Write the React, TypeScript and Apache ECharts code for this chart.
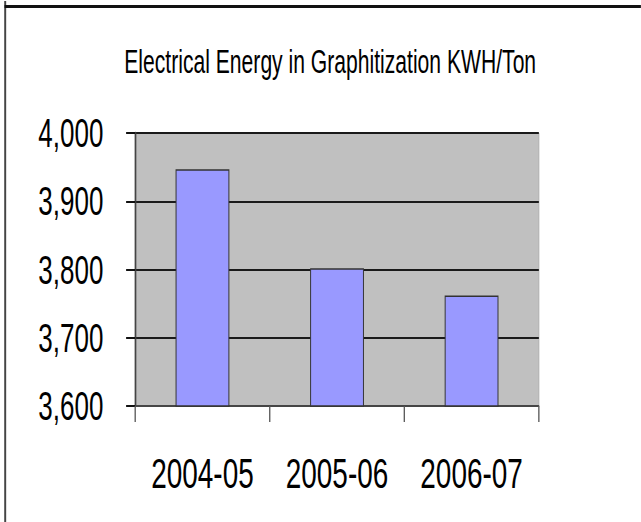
import React, { useEffect, useRef } from "react";
import * as echarts from "echarts";

const categories = ["2004-05", "2005-06", "2006-07"];
const energyKwhPerTon = [3947, 3802, 3762];
const yTicks = { min: 3600, max: 4000, interval: 100 };
const titleText = "Electrical Energy in Graphitization KWH/Ton";

// The reference is horizontally compressed; we draw wider and squeeze with scaleX.
const SX = 0.65;
const PAGE_W = 641;
const PAGE_H = 522;
const W = Math.round(PAGE_W / SX);

export default function App() {
  const ref = useRef<HTMLDivElement>(null);
  useEffect(() => {
    if (!ref.current) return;
    const chart = echarts.init(ref.current, null, { renderer: "svg" });
    const font = "'Liberation Sans', Arial, sans-serif";
    chart.setOption({
      animation: false,
      backgroundColor: "#ffffff",
      textStyle: { fontFamily: font },
      title: {
        text: titleText,
        left: 503,
        top: 40,
        textAlign: "center",
        textStyle: { fontSize: 32.5, fontWeight: "normal", color: "#000", fontFamily: font },
      },
      graphic: [
        { type: "line", shape: { x1: 8, y1: 1, x2: 8, y2: PAGE_H }, style: { stroke: "#444", lineWidth: 3 } },
        { type: "line", shape: { x1: 7, y1: 6.5, x2: W, y2: 6.5 }, style: { stroke: "#111", lineWidth: 3 } },
      ],
      grid: {
        left: 208,
        right: W - 829,
        top: 133,
        bottom: PAGE_H - 406,
        show: true,
        backgroundColor: "#C0C0C0",
        borderColor: "#a8a8a8",
        borderWidth: 1,
        containLabel: false,
      },
      xAxis: {
        type: "category",
        data: categories,
        boundaryGap: true,
        axisLine: { show: true, lineStyle: { color: "#555", width: 1.5 } },
        axisTick: { show: true, length: 16, lineStyle: { color: "#555", width: 2 } },
        axisLabel: { fontSize: 43, color: "#000", margin: 46, fontFamily: font },
      },
      yAxis: {
        type: "value",
        min: yTicks.min,
        max: yTicks.max,
        interval: yTicks.interval,
        axisLine: { show: true, lineStyle: { color: "#444", width: 2.5 } },
        axisTick: { show: true, length: 14, lineStyle: { color: "#111", width: 2 } },
        splitLine: { show: true, lineStyle: { color: "#1a1a1a", width: 2 } },
        axisLabel: {
          fontSize: 40,
          color: "#000",
          margin: 49,
          fontFamily: font,
          formatter: (v: number) => v.toLocaleString("en-US"),
        },
      },
      series: [
        {
          type: "bar",
          data: energyKwhPerTon,
          barWidth: "40%",
          itemStyle: { color: "#9999FF", borderColor: "#333", borderWidth: 1.5 },
        },
      ],
    });
    return () => chart.dispose();
  }, []);
  return (
    <div
      style={{
        position: "absolute",
        left: 0,
        top: 0,
        width: PAGE_W,
        height: PAGE_H,
        overflow: "hidden",
        background: "#fff",
      }}
    >
      <div
        ref={ref}
        style={{
          width: W,
          height: PAGE_H,
          transform: `scaleX(${SX})`,
          transformOrigin: "left top",
        }}
      />
    </div>
  );
}
